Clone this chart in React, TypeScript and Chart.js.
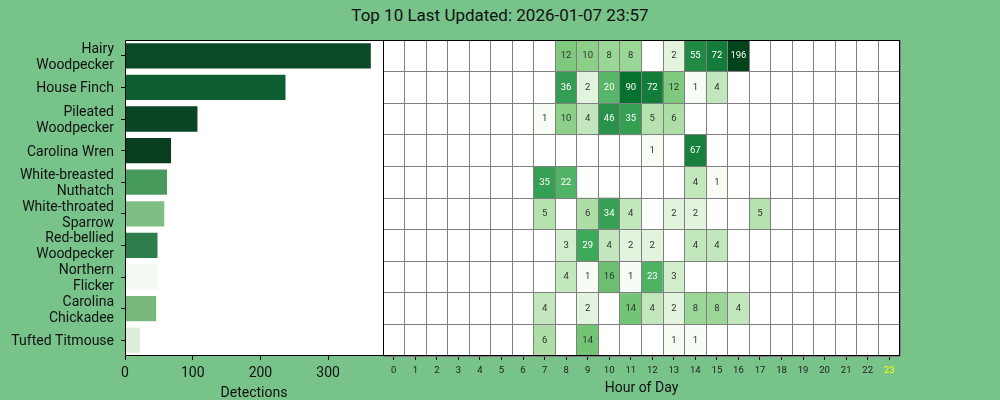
import React, { useEffect, useRef } from 'react';
import { Chart, registerables } from 'chart.js';

Chart.register(...registerables);

const TITLE = 'Top 10 Last Updated: 2026-01-07 23:57';

const species = [
  'Hairy Woodpecker',
  'House Finch',
  'Pileated Woodpecker',
  'Carolina Wren',
  'White-breasted Nuthatch',
  'White-throated Sparrow',
  'Red-bellied Woodpecker',
  'Northern Flicker',
  'Carolina Chickadee',
  'Tufted Titmouse',
];

const totals = [363, 237, 107, 68, 62, 58, 48, 48, 46, 22];

const barColors = [
  '#0b4a27', '#0e5e32', '#0a4524', '#093d1f', '#469a5c',
  '#80bf83', '#2e7d4a', '#f3faf1', '#78b97b', '#dcefd9',
];

const hourLabels = ['0', '1', '2', '3', '4', '5', '6', '7', '8', '9', '10', '11',
  '12', '13', '14', '15', '16', '17', '18', '19', '20', '21', '22', '23'];

const currentHour = 23;

const hairyWoodpecker =      [0, 0, 0, 0, 0, 0, 0, 0, 12, 10, 8, 8, 0, 2, 55, 72, 196, 0, 0, 0, 0, 0, 0, 0];
const houseFinch =           [0, 0, 0, 0, 0, 0, 0, 0, 36, 2, 20, 90, 72, 12, 1, 4, 0, 0, 0, 0, 0, 0, 0, 0];
const pileatedWoodpecker =   [0, 0, 0, 0, 0, 0, 0, 1, 10, 4, 46, 35, 5, 6, 0, 0, 0, 0, 0, 0, 0, 0, 0, 0];
const carolinaWren =         [0, 0, 0, 0, 0, 0, 0, 0, 0, 0, 0, 0, 1, 0, 67, 0, 0, 0, 0, 0, 0, 0, 0, 0];
const whiteBreasted =        [0, 0, 0, 0, 0, 0, 0, 35, 22, 0, 0, 0, 0, 0, 4, 1, 0, 0, 0, 0, 0, 0, 0, 0];
const whiteThroated =        [0, 0, 0, 0, 0, 0, 0, 5, 0, 6, 34, 4, 0, 2, 2, 0, 0, 5, 0, 0, 0, 0, 0, 0];
const redBellied =           [0, 0, 0, 0, 0, 0, 0, 0, 3, 29, 4, 2, 2, 0, 4, 4, 0, 0, 0, 0, 0, 0, 0, 0];
const northernFlicker =      [0, 0, 0, 0, 0, 0, 0, 0, 4, 1, 16, 1, 23, 3, 0, 0, 0, 0, 0, 0, 0, 0, 0, 0];
const carolinaChickadee =    [0, 0, 0, 0, 0, 0, 0, 4, 0, 2, 0, 14, 4, 2, 8, 8, 4, 0, 0, 0, 0, 0, 0, 0];
const tuftedTitmouse =       [0, 0, 0, 0, 0, 0, 0, 6, 0, 14, 0, 0, 0, 1, 1, 0, 0, 0, 0, 0, 0, 0, 0, 0];

const heatRows = [
  hairyWoodpecker, houseFinch, pileatedWoodpecker, carolinaWren, whiteBreasted,
  whiteThroated, redBellied, northernFlicker, carolinaChickadee, tuftedTitmouse,
];

const FONT = 'Roboto';
const BG = '#77c38a';
const GREENS = ['#f7fcf5', '#e5f5e0', '#c7e9c0', '#a1d99b', '#74c476', '#41ab5d', '#238b45', '#006d2c', '#00441b'];

function hexToRgb(h: string) {
  return [parseInt(h.slice(1, 3), 16), parseInt(h.slice(3, 5), 16), parseInt(h.slice(5, 7), 16)];
}

function greens(t: number) {
  const c = Math.max(0, Math.min(1, t)) * (GREENS.length - 1);
  const i = Math.min(GREENS.length - 2, Math.floor(c));
  const f = c - i;
  const a = hexToRgb(GREENS[i]);
  const b = hexToRgb(GREENS[i + 1]);
  const m = a.map((v, k) => Math.round(v + (b[k] - v) * f));
  return `rgb(${m[0]},${m[1]},${m[2]})`;
}

const vmax = Math.max(...heatRows.map((r) => Math.max(...r)));
function norm(v: number) {
  return Math.log(v) / Math.log(vmax);
}

function wrap(name: string, width = 15): string[] | string {
  const words = name.split(' ');
  const lines: string[] = [];
  let cur = '';
  for (const w of words) {
    if (!cur) cur = w;
    else if ((cur + ' ' + w).length <= width) cur += ' ' + w;
    else { lines.push(cur); cur = w; }
  }
  if (cur) lines.push(cur);
  return lines.length === 1 ? lines[0] : lines;
}

const whiteArea = {
  id: 'whiteArea',
  beforeDraw(chart: any) {
    const { ctx, chartArea: a } = chart;
    ctx.save();
    ctx.fillStyle = '#ffffff';
    ctx.fillRect(a.left, a.top, a.right - a.left, a.bottom - a.top);
    ctx.restore();
  },
};

const barFrame = {
  id: 'barFrame',
  afterDraw(chart: any) {
    const { ctx, chartArea: a } = chart;
    ctx.save();
    ctx.strokeStyle = '#000';
    ctx.lineWidth = 1;
    ctx.beginPath();
    ctx.moveTo(a.right, a.top + 0.5);
    ctx.lineTo(a.left + 0.5, a.top + 0.5);
    ctx.lineTo(a.left + 0.5, a.bottom - 0.5);
    ctx.lineTo(a.right, a.bottom - 0.5);
    ctx.stroke();
    ctx.restore();
  },
};

const heatFrame = {
  id: 'heatFrame',
  afterDraw(chart: any) {
    const { ctx, chartArea: a } = chart;
    ctx.save();
    ctx.strokeStyle = '#000';
    ctx.lineWidth = 1;
    ctx.strokeRect(a.left + 0.5, a.top + 0.5, a.right - a.left - 1, a.bottom - a.top - 1);
    ctx.font = `9.5px ${FONT}`;
    ctx.textAlign = 'center';
    ctx.textBaseline = 'middle';
    heatRows.forEach((row, r) => {
      const meta = chart.getDatasetMeta(r);
      row.forEach((v, h) => {
        if (v > 0) {
          const el = meta.data[h];
          if (!el) return;
          const p = el.getCenterPoint();
          ctx.fillStyle = norm(v) > 0.55 ? '#ffffff' : '#333333';
          ctx.fillText(String(v), p.x, p.y);
        }
      });
    });
    ctx.restore();
  },
};

export default function App() {
  const barRef = useRef<HTMLCanvasElement>(null);
  const heatRef = useRef<HTMLCanvasElement>(null);

  useEffect(() => {
    const textColor = '#111111';
    const bar = new Chart(barRef.current!, {
      type: 'bar',
      data: {
        labels: species.map((s) => wrap(s)),
        datasets: [{
          data: totals,
          backgroundColor: barColors,
          barPercentage: 0.8,
          categoryPercentage: 1,
          borderWidth: 0,
        }],
      },
      options: {
        indexAxis: 'y',
        responsive: false,
        animation: false,
        devicePixelRatio: 1,
        layout: { padding: { top: 40, right: 1, bottom: 0, left: 0 } },
        plugins: { legend: { display: false }, tooltip: { enabled: false } },
        scales: {
          x: {
            type: 'linear',
            min: 0,
            max: 381,
            ticks: { stepSize: 100, includeBounds: false, color: textColor, font: { family: FONT, size: 14 }, padding: 5 },
            grid: { drawOnChartArea: false, tickLength: 4, color: '#000', tickColor: '#000' },
            border: { display: false },
            title: { display: true, text: 'Detections', color: textColor, font: { family: FONT, size: 14, lineHeight: 1 }, padding: { top: 0, bottom: 0 } },
            afterFit: (s: any) => { s.height = 44; },
          },
          y: {
            ticks: { color: textColor, font: { family: FONT, size: 14, lineHeight: 1.15 }, padding: 7, autoSkip: false, labelOffset: 1.5 },
            grid: { drawOnChartArea: false, offset: false, tickLength: 4, color: '#000', tickColor: '#000' },
            border: { display: false },
            afterFit: (s: any) => { s.width = 125; },
          },
        },
      } as any,
      plugins: [whiteArea, barFrame],
    });

    const heat = new Chart(heatRef.current!, {
      type: 'bar',
      data: {
        labels: hourLabels,
        datasets: heatRows.map((row, r) => ({
          data: row.map((v) => (v > 0 ? [r, r + 1] : null)),
          backgroundColor: row.map((v) => (v > 0 ? greens(norm(v)) : '#ffffff')),
          grouped: false,
          barPercentage: 1,
          categoryPercentage: 1,
          borderWidth: 0,
          xAxisID: 'x',
          yAxisID: 'y',
        })) as any,
      },
      options: {
        responsive: false,
        animation: false,
        devicePixelRatio: 1,
        layout: { padding: { top: 40, right: 100, bottom: 0, left: 0 } },
        plugins: { legend: { display: false }, tooltip: { enabled: false } },
        scales: {
          x: {
            type: 'category',
            offset: true,
            grid: { offset: true, drawOnChartArea: true, drawTicks: false, color: '#808080', lineWidth: 1, z: 1 },
            ticks: { display: false },
            border: { display: false },
            afterFit: (s: any) => { s.height = 0; },
          },
          xt: {
            type: 'category',
            labels: hourLabels,
            position: 'bottom',
            offset: true,
            grid: { offset: false, drawOnChartArea: false, tickLength: 4, color: '#000', tickColor: '#000' },
            ticks: {
              autoSkip: false,
              maxRotation: 0,
              padding: 5,
              font: { family: FONT, size: 9.5 },
              color: (ctx: any) => (ctx.index === currentHour ? '#ffff00' : '#222222'),
            },
            border: { display: false },
            title: { display: true, text: 'Hour of Day', color: textColor, font: { family: FONT, size: 14, lineHeight: 1 }, padding: { top: 0, bottom: 5 } },
            afterFit: (s: any) => { s.height = 44; },
          },
          y: {
            type: 'linear',
            min: 0,
            max: 10,
            reverse: true,
            ticks: { stepSize: 1, display: false },
            grid: { color: '#808080', lineWidth: 1, drawTicks: false, z: 1 },
            border: { display: false },
            afterFit: (s: any) => { s.width = 0; },
          },
        },
      } as any,
      plugins: [whiteArea, heatFrame],
    });

    return () => {
      bar.destroy();
      heat.destroy();
    };
  }, []);

  return (
    <div style={{ position: 'fixed', left: 0, top: 0, width: 1000, height: 400, background: BG, overflow: 'hidden' }}>
      <div style={{
        position: 'absolute', left: 0, top: 4, width: 1000, textAlign: 'center',
        fontFamily: FONT, fontSize: 17, lineHeight: '22px', color: '#111111',
      }}>{TITLE}</div>
      <canvas ref={barRef} width={384} height={400} style={{ position: 'absolute', left: 0, top: 0, width: 384, height: 400 }} />
      <canvas ref={heatRef} width={617} height={400} style={{ position: 'absolute', left: 383, top: 0, width: 617, height: 400 }} />
    </div>
  );
}
